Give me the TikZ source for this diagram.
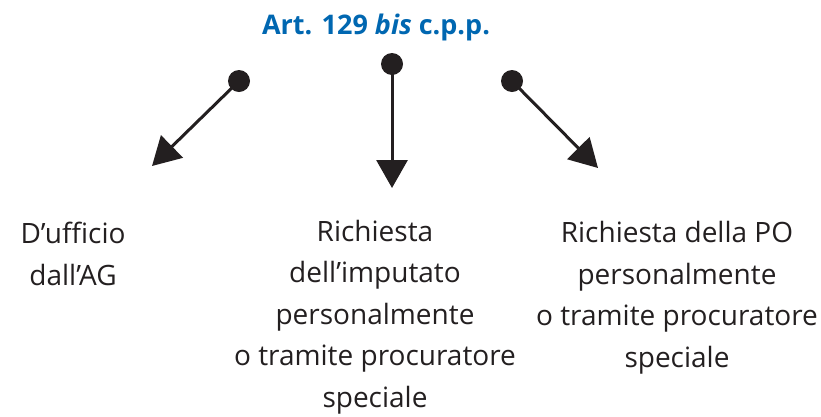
\documentclass[tikz,border=0pt]{standalone}
\usepackage{fontspec}
\setmainfont{Open Sans}
\usetikzlibrary{arrows.meta}
\definecolor{titleblue}{RGB}{0,103,177}
\definecolor{ink}{RGB}{35,31,32}
\begin{document}
\begin{tikzpicture}[x=1pt,y=-1pt,
  dot/.style={circle,fill=ink,inner sep=0pt,minimum size=22pt},
  conn/.style={draw=ink,line width=3pt,-{Triangle[length=28pt,width=31pt]},shorten <=-2pt},
  lbl/.style={align=center,anchor=base,inner sep=0pt,text=ink,font=\fontsize{28}{41.5}\selectfont}]
\useasboundingbox (0,0) rectangle (821,416);
\node[anchor=base,inner sep=0pt,text=titleblue,font=\fontsize{27}{30}\selectfont\bfseries] (title) at (376,34) {Art. 129 \textit{bis} c.p.p.};
\node[dot] (d1) at (239,81) {};
\node[dot] (d2) at (392,64) {};
\node[dot] (d3) at (512,81) {};
\coordinate (t1) at (152,166);
\coordinate (t2) at (392,188);
\coordinate (t3) at (598,168);
\draw[conn] (d1) -- (t1);
\draw[conn] (d2) -- (t2);
\draw[conn] (d3) -- (t3);
\node[lbl] (l1) at (73,285) {D’ufficio\\dall’AG};
\node[lbl] (l2) at (375,407) {Richiesta\\dell’imputato\\personalmente\\o tramite procuratore\\speciale};
\node[lbl] (l3) at (677,367) {Richiesta della PO\\personalmente\\o tramite procuratore\\speciale};
\end{tikzpicture}
\end{document}
